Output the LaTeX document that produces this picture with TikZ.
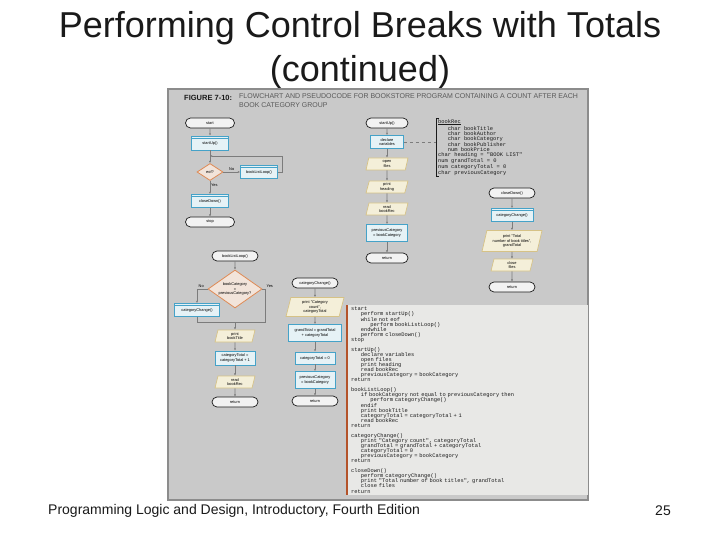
\documentclass[tikz,border=0pt]{standalone}
\usepackage{fontspec}
\setmainfont{Liberation Sans}
\setmonofont{Liberation Mono}
\usepackage{tikz}
\usepackage{xcolor}
\usetikzlibrary{arrows.meta,positioning,shapes.geometric,shapes.misc}
\definecolor{ink}{HTML}{1A1A1A}
\definecolor{figgray}{HTML}{C9C9C9}
\definecolor{figedge}{HTML}{8C8C8C}
\definecolor{codebg}{HTML}{E8E8E6}
\definecolor{codeedge}{HTML}{B4532A}
\definecolor{procline}{HTML}{45A2C8}
\definecolor{procbg}{HTML}{E6F2F6}
\definecolor{ioline}{HTML}{D6C286}
\definecolor{iobg}{HTML}{F4EFD9}
\definecolor{decline}{HTML}{DE8A55}
\definecolor{decbg}{HTML}{F2E4DA}
\definecolor{termbg}{HTML}{F2F2F2}
\definecolor{arrgray}{HTML}{7C7C7C}
\definecolor{capgray}{HTML}{5A5A5A}
\newcommand{\flowfont}{\fontsize{3.9}{4.4}\selectfont}
\newcommand{\codefont}{\ttfamily\fontsize{5.4}{5.06}\selectfont}
\newcommand{\codeind}{\hspace*{9.6pt}}
\tikzset{
  termnode/.style={rounded rectangle, draw=ink, fill=termbg, line width=0.7pt,
                   minimum width=47pt, minimum height=10pt, inner sep=0.5pt,
                   align=center, font=\flowfont},
  procbox/.style={rectangle, draw=procline, fill=procbg, line width=0.9pt,
                  inner sep=1pt, align=center, font=\flowfont},
  modbox/.style={procbox, minimum width=40pt, minimum height=13pt,
                 path picture={\draw[procline,line width=0.4pt]
                   ([yshift=-1.8pt]path picture bounding box.north west) --
                   ([yshift=-1.8pt]path picture bounding box.north east);}},
  iobox/.style={trapezium, trapezium left angle=70, trapezium right angle=110,
                trapezium stretches body=true, draw=ioline, fill=iobg,
                line width=0.7pt, minimum width=40pt, minimum height=12pt,
                inner sep=0.5pt, align=center, font=\flowfont},
  decide/.style={diamond, draw=decline, fill=decbg, line width=0.8pt,
                 aspect=1.4, inner sep=0pt, align=center, font=\flowfont},
  flowarr/.style={-{Latex[length=2.2pt,width=2pt]}, draw=arrgray, line width=0.6pt},
  flowline/.style={draw=arrgray, line width=0.6pt},
  ynlabel/.style={font=\flowfont, inner sep=0.8pt}
}

\begin{document}
\begin{tikzpicture}[x=1pt,y=-1pt,
   slidetitle/.style={align=center, text=ink, font=\fontsize{36}{44}\selectfont},
   slidefoot/.style={text=ink, inner sep=0pt, font=\fontsize{14}{16}\selectfont},
   figlabel/.style={text=ink, inner sep=0pt, font=\bfseries\fontsize{7.5}{9}\selectfont},
   figcaption/.style={text=capgray, inner sep=1pt, align=left,
                      font=\fontsize{7}{9}\selectfont},
   declnode/.style={align=left, inner xsep=2pt, inner ysep=1pt, text=ink,
                    font=\ttfamily\fontsize{5.4}{5}\selectfont},
   codepanel/.style={rectangle, fill=codebg, minimum width=241pt, minimum height=190pt,
                     inner xsep=4pt, inner ysep=2pt, text width=233pt,
                     align=left, text=ink, font=\codefont}]

  \useasboundingbox[fill=white] (0,0) rectangle (720,540);

  % Slide title and footer
  \node[slidetitle] (title) at (360,50) {Performing Control Breaks with Totals\\(continued)};
  \node[slidefoot, anchor=west] (foot) at (48,511) {Programming Logic and Design, Introductory, Fourth Edition};
  \node[slidefoot, anchor=east] (pagenum) at (671,511) {25};

  % Figure frame and caption
  \draw[fill=figgray, draw=figedge, line width=1.5pt] (168,89) rectangle (588,500);
  \node[figlabel, anchor=west] (figno) at (184,98) {FIGURE 7-10:};
  \node[figcaption, anchor=north west] (figcap) at (238,92) {%
    FLOWCHART AND PSEUDOCODE FOR BOOKSTORE PROGRAM CONTAINING A COUNT AFTER EACH\\
    BOOK CATEGORY GROUP};

  % Mainline
  \node[termnode, minimum width=50pt] (start) at (210,123) {start};
  \node[modbox, minimum width=37pt, minimum height=14pt] (startup) at (210,143) {startUp()};
  \coordinate (loopin) at (210,156);
  \node[decide, minimum width=26pt, minimum height=17pt] (eof) at (210,172) {eof?};
  \node[modbox, minimum width=37pt] (bll) at (259,172) {bookListLoop()};
  \node[modbox, minimum width=37pt] (close) at (210,201) {closeDown()};
  \node[termnode, minimum width=50pt] (stop) at (210,222) {stop};

  \draw[flowarr] (start) -- (startup);
  \draw[flowline] (startup) -- (loopin);
  \draw[flowarr] (loopin) -- (eof);
  \draw[flowarr] (eof) -- node[ynlabel, above] {No} (bll);
  \draw[flowarr] (bll.east) -- ++(4,0) |- (loopin);
  \draw[flowarr] (eof) -- node[ynlabel, right, pos=0.35] {Yes} (close);
  \draw[flowarr] (close) -- (stop);

  % startUp() module
  \node[termnode, minimum width=43pt] (su) at (387,123) {startUp()};
  \node[procbox, minimum width=33pt, minimum height=13pt] (declare) at (387,142) {declare\\variables};
  \node[iobox, minimum width=42pt] (openf) at (387,164) {open\\files};
  \node[iobox, minimum width=42pt] (head) at (387,187) {print\\heading};
  \node[iobox, minimum width=42pt] (readone) at (387,209) {read\\bookRec};
  \node[procbox, minimum width=41pt, minimum height=17pt] (prevone) at (387,233) {previousCategory\\= bookCategory};
  \node[termnode, minimum width=43pt] (retone) at (387,258) {return};

  \draw[flowarr] (su) -- (declare);
  \draw[flowarr] (declare) -- (openf);
  \draw[flowarr] (openf) -- (head);
  \draw[flowarr] (head) -- (readone);
  \draw[flowarr] (readone) -- (prevone);
  \draw[flowarr] (prevone) -- (retone);

  % Declarations
  \node[declnode, anchor=north west] (decl) at (436,118) {%
    \underline{bookRec}\\
    \codeind char bookTitle\\
    \codeind char bookAuthor\\
    \codeind char bookCategory\\
    \codeind char bookPublisher\\
    \codeind num bookPrice\\
    char heading = "BOOK LIST"\\
    num grandTotal = 0\\
    num categoryTotal = 0\\
    char previousCategory};
  \draw[ink, line width=0.5pt] ([xshift=3pt]decl.north west) -- (decl.north west)
    -- (decl.south west) -- ([xshift=3pt]decl.south west);
  \draw[arrgray, line width=0.6pt, dashed] (declare.east) -- (declare.east -| decl.west);

  % closeDown() module
  \node[termnode] (cd) at (512,193) {closeDown()};
  \node[modbox, minimum width=42pt] (ccone) at (512,215) {categoryChange()};
  \node[iobox, minimum width=60pt, minimum height=21pt] (printtot) at (512,241) {print "Total\\number of book titles",\\grandTotal};
  \node[iobox, minimum width=42pt] (closef) at (512,265) {close\\files};
  \node[termnode] (rettwo) at (512,287) {return};

  \draw[flowarr] (cd) -- (ccone);
  \draw[flowarr] (ccone) -- (printtot);
  \draw[flowarr] (printtot) -- (closef);
  \draw[flowarr] (closef) -- (rettwo);

  % bookListLoop() module
  \node[termnode] (bl) at (235,256) {bookListLoop()};
  \node[decide, minimum width=54pt, minimum height=38pt] (newcat) at (235,289) {bookCategory\\=\\previousCategory?};
  \node[modbox, minimum width=45pt] (cctwo) at (197,310) {categoryChange()};
  \coordinate (join) at (235,322);
  \node[iobox] (ptitle) at (235,336) {print\\bookTitle};
  \node[procbox, minimum width=40pt, minimum height=14pt] (addone) at (235,358) {categoryTotal =\\categoryTotal + 1};
  \node[iobox] (readtwo) at (235,382) {read\\bookRec};
  \node[termnode] (retthree) at (235,402) {return};

  \draw[flowarr] (bl) -- (newcat);
  \draw[flowarr] (newcat.west) -| node[ynlabel, above, pos=0.3] {No} (cctwo.north);
  \draw[flowline] (cctwo.south) |- (join);
  \draw[flowline] (newcat.east) -- node[ynlabel, above right, pos=1] {Yes} ++(3,0) |- (join);
  \draw[flowarr] (join) -- (ptitle);
  \draw[flowarr] (ptitle) -- (addone);
  \draw[flowarr] (addone) -- (readtwo);
  \draw[flowarr] (readtwo) -- (retthree);

  % categoryChange() module
  \node[termnode] (cc) at (315,283) {categoryChange()};
  \node[iobox, minimum width=58pt, minimum height=19pt] (pcount) at (315,307) {print "Category\\count",\\categoryTotal};
  \node[procbox, minimum width=53pt, minimum height=17pt] (addgrand) at (315,333) {grandTotal = grandTotal\\+ categoryTotal};
  \node[procbox, minimum width=40pt, minimum height=12pt] (zero) at (315,358) {categoryTotal = 0};
  \node[procbox, minimum width=40pt, minimum height=17pt] (prevtwo) at (315,380) {previousCategory\\= bookCategory};
  \node[termnode] (retfour) at (315,401) {return};

  \draw[flowarr] (cc) -- (pcount);
  \draw[flowarr] (pcount) -- (addgrand);
  \draw[flowarr] (addgrand) -- (zero);
  \draw[flowarr] (zero) -- (prevtwo);
  \draw[flowarr] (prevtwo) -- (retfour);

  % Pseudocode panel
  \node[codepanel, anchor=north west] (code) at (347,305) {%
    start\\
    \codeind perform startUp()\\
    \codeind while not eof\\
    \codeind\codeind perform bookListLoop()\\
    \codeind endwhile\\
    \codeind perform closeDown()\\
    stop\\
    \mbox{}\\
    startUp()\\
    \codeind declare variables\\
    \codeind open files\\
    \codeind print heading\\
    \codeind read bookRec\\
    \codeind previousCategory = bookCategory\\
    return\\
    \mbox{}\\
    bookListLoop()\\
    \codeind if bookCategory not equal to previousCategory then\\
    \codeind\codeind perform categoryChange()\\
    \codeind endif\\
    \codeind print bookTitle\\
    \codeind categoryTotal = categoryTotal + 1\\
    \codeind read bookRec\\
    return\\
    \mbox{}\\
    categoryChange()\\
    \codeind print "Category count", categoryTotal\\
    \codeind grandTotal = grandTotal + categoryTotal\\
    \codeind categoryTotal = 0\\
    \codeind previousCategory = bookCategory\\
    return\\
    \mbox{}\\
    closeDown()\\
    \codeind perform categoryChange()\\
    \codeind print "Total number of book titles", grandTotal\\
    \codeind close files\\
    return};
  \draw[codeedge, line width=2pt] (code.north west) -- (code.south west);
\end{tikzpicture}
\end{document}
